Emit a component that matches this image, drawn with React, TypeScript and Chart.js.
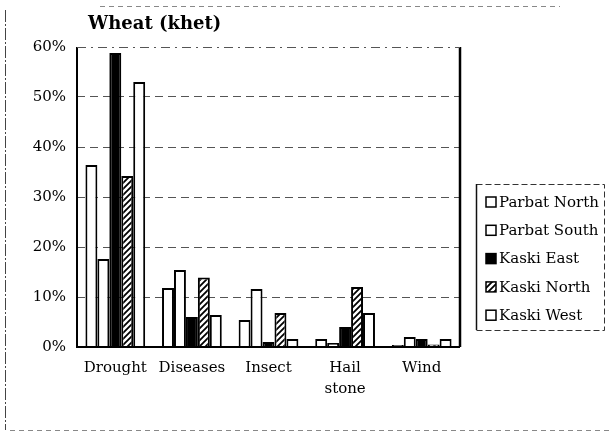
import React, { useEffect, useRef } from "react";
import { Chart, registerables } from "chart.js";

Chart.register(...registerables);

const categories: (string | string[])[] = ["Drought", "Diseases", "Insect", ["Hail", "stone"], "Wind"];
const seriesNames = ["Parbat North", "Parbat South", "Kaski East", "Kaski North", "Kaski West"];
const parbatNorth = [36.4, 11.8, 5.4, 1.6, 0.4];
const parbatSouth = [17.6, 15.4, 11.6, 0.8, 2.0];
const kaskiEast = [58.8, 6.0, 1.0, 4.0, 1.6];
const kaskiNorth = [34.2, 13.9, 6.8, 12.0, 0.5];
const kaskiWest = [53.0, 6.4, 1.6, 6.8, 1.6];
const yTicks = [0, 10, 20, 30, 40, 50, 60];
const titleText = "Wheat (khet)";

const FONT = "'DejaVu Serif', 'Liberation Serif', serif";

function makeHatch(): CanvasPattern | string {
  const c = document.createElement("canvas");
  c.width = 6;
  c.height = 6;
  const g = c.getContext("2d");
  if (!g) return "#888";
  g.fillStyle = "#fff";
  g.fillRect(0, 0, 6, 6);
  g.strokeStyle = "#000";
  g.lineWidth = 1.8;
  g.beginPath();
  g.moveTo(-1, 7);
  g.lineTo(7, -1);
  g.moveTo(-4, 4);
  g.lineTo(4, -4);
  g.moveTo(2, 10);
  g.lineTo(10, 2);
  g.stroke();
  const p = g.createPattern(c, "repeat");
  return p || "#888";
}

export default function App() {
  const ref = useRef<HTMLCanvasElement | null>(null);

  useEffect(() => {
    if (!ref.current) return;
    const hatch = makeHatch();
    const fills: any[] = ["#fff", "#fff", "#000", hatch, "#fff"];
    const values = [parbatNorth, parbatSouth, kaskiEast, kaskiNorth, kaskiWest];

    const framePlugin = {
      id: "frame",
      afterDatasetsDraw(chart: any) {
        const { ctx, chartArea: a } = chart;
        ctx.save();
        ctx.strokeStyle = "#000";
        ctx.setLineDash([]);
        ctx.lineWidth = 2;
        ctx.beginPath();
        ctx.moveTo(a.left, a.top);
        ctx.lineTo(a.left, a.bottom);
        ctx.lineTo(a.right, a.bottom);
        ctx.stroke();
        ctx.lineWidth = 2.5;
        ctx.beginPath();
        ctx.moveTo(a.right, a.top);
        ctx.lineTo(a.right, a.bottom);
        ctx.stroke();
        ctx.lineWidth = 1;
        ctx.setLineDash([9, 5, 2, 5]);
        ctx.strokeStyle = "#555";
        ctx.beginPath();
        ctx.moveTo(a.left, a.top + 0.5);
        ctx.lineTo(a.right, a.top + 0.5);
        ctx.stroke();
        ctx.restore();
      },
      afterDraw(chart: any) {
        const { ctx, chartArea: a } = chart;
        ctx.save();
        // title
        ctx.fillStyle = "#000";
        ctx.font = "bold 18px " + FONT;
        ctx.textBaseline = "middle";
        ctx.textAlign = "left";
        ctx.fillText(titleText, a.left + 11, 24);

        // legend
        const lx = a.right + 16;
        const ly = 184;
        const lw = 128;
        const lh = 146;
        ctx.strokeStyle = "#333";
        ctx.lineWidth = 1;
        ctx.setLineDash([6, 3]);
        ctx.strokeRect(lx + 0.5, ly + 0.5, lw, lh);
        ctx.setLineDash([]);
        ctx.strokeStyle = "#111";
        ctx.lineWidth = 1.5;
        ctx.beginPath();
        ctx.moveTo(lx + 0.5, ly);
        ctx.lineTo(lx + 0.5, ly + lh);
        ctx.stroke();
        ctx.font = "15px " + FONT;
        chart.data.datasets.forEach((ds: any, i: number) => {
          const cy = ly + 18 + i * 28.3;
          ctx.fillStyle = ds.backgroundColor;
          ctx.fillRect(lx + 10, cy - 5, 10, 10);
          ctx.strokeStyle = "#000";
          ctx.lineWidth = 1.5;
          ctx.strokeRect(lx + 10, cy - 5, 10, 10);
          ctx.fillStyle = "#000";
          ctx.fillText(ds.label, lx + 23, cy + 1);
        });

        // outer scan frame
        ctx.strokeStyle = "#444";
        ctx.lineWidth = 1;
        ctx.setLineDash([12, 2, 2, 2]);
        ctx.beginPath();
        ctx.moveTo(5.5, 10);
        ctx.lineTo(5.5, 430);
        ctx.stroke();
        ctx.setLineDash([5, 4]);
        ctx.strokeStyle = "#888";
        ctx.beginPath();
        ctx.moveTo(10, 430.5);
        ctx.lineTo(613, 430.5);
        ctx.moveTo(100, 6.5);
        ctx.lineTo(560, 6.5);
        ctx.stroke();
        ctx.restore();
      },
    };

    const chart = new Chart(ref.current, {
      type: "bar",
      data: {
        labels: categories,
        datasets: seriesNames.map((name, i) => ({
          label: name,
          data: values[i],
          backgroundColor: fills[i],
          borderColor: "#000",
          borderWidth: 2,
          borderSkipped: "bottom",
          categoryPercentage: 0.78,
          barPercentage: 1.0,
        })),
      },
      options: {
        animation: false,
        responsive: false,
        maintainAspectRatio: false,
        layout: { padding: { left: 0, top: 47, right: 153, bottom: 25 } },
        plugins: {
          legend: { display: false },
          title: { display: false },
          tooltip: { enabled: false },
        },
        scales: {
          x: {
            grid: { display: false, drawTicks: false },
            border: { display: false },
            ticks: {
              color: "#000",
              padding: 11,
              font: { family: FONT, size: 15, lineHeight: 1.4 },
              maxRotation: 0,
              autoSkip: false,
            },
            afterFit: (s: any) => {
              s.height = 60;
            },
          },
          y: {
            min: 0,
            max: 60,
            afterBuildTicks: (s: any) => {
              s.ticks = yTicks.map((v) => ({ value: v }));
            },
            grid: {
              drawTicks: false,
              color: (c: any) =>
                c.tick && (c.tick.value === 0 || c.tick.value === 60) ? "rgba(0,0,0,0)" : "#555",
              lineWidth: 1,
            },
            border: { display: false, dash: [8, 5] },
            ticks: {
              color: "#000",
              padding: 11,
              font: { family: FONT, size: 15 },
              callback: (v: any) => v + "%",
            },
            afterFit: (s: any) => {
              s.width = 77;
            },
          },
        },
      },
      plugins: [framePlugin],
    });
    return () => chart.destroy();
  }, []);

  return (
    <div style={{ position: "fixed", left: 0, top: 0, width: 613, height: 432, background: "#fff" }}>
      <canvas ref={ref} width={613} height={432} style={{ width: 613, height: 432, display: "block" }} />
    </div>
  );
}
